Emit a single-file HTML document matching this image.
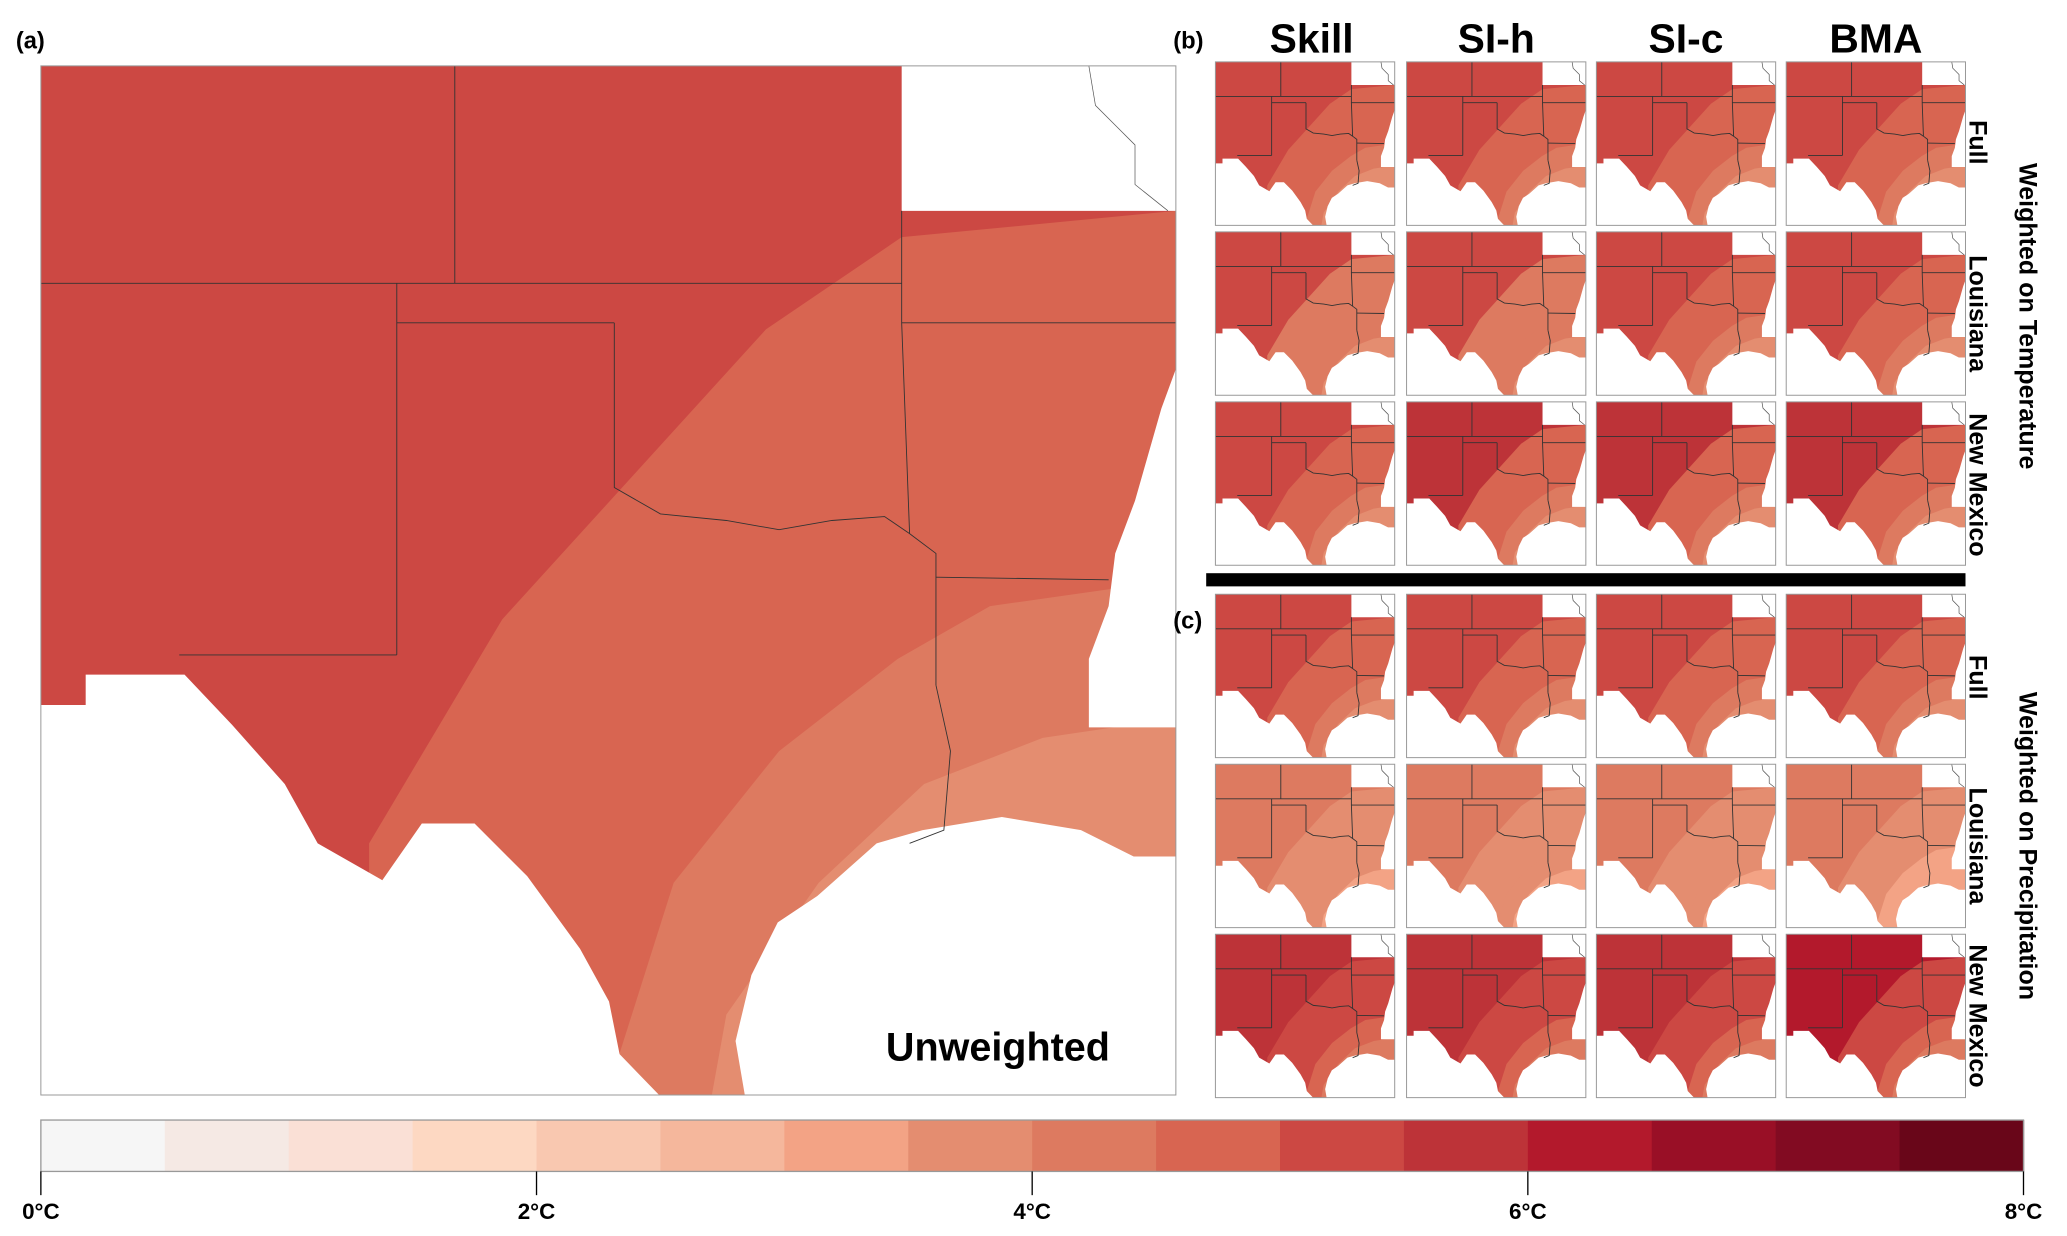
<!DOCTYPE html>
<html><head><meta charset="utf-8">
<style>
html,body{margin:0;padding:0;background:#fff;}
svg{display:block;font-family:"Liberation Sans",sans-serif;}
text{font-weight:bold;fill:#000;}
</style></head>
<body>
<svg id="fig" width="2067" height="1236" viewBox="0 0 1568 938" preserveAspectRatio="none" xmlns="http://www.w3.org/2000/svg">
<defs>
<g id="map-geom">
</g>
</defs>
<g id="main-panel"></g>
<g id="small-panels"></g>
<g id="colorbar"></g>
<text x="12" y="37" font-size="18" font-weight="normal">(a)</text>
<text x="890" y="37" font-size="18">(b)</text>
<text x="890" y="477" font-size="18">(c)</text>
<text x="757" y="805" font-size="30" text-anchor="middle">Unweighted</text>
<rect x="915" y="435" width="576" height="10" fill="#000"/>
</svg>
<script>
// Colorbar data (°C bins)
const binEdges = [0,0.5,1,1.5,2,2.5,3,3.5,4,4.5,5,5.5,6,6.5,7,7.5,8];
const binColors = ["#f6f6f6","#f5e9e4","#fae0d6","#fdd8c2","#f9c8b0","#f5b79c","#f3a385","#e48d70","#dd7a60","#d86551","#cc4843","#bd3338","#b3192c","#990f26","#820b22","#690619"];
const tickValues = [0,2,4,6,8];
const tickLabels = ["0°C","2°C","4°C","6°C","8°C"];
// Small multiples data: mean-ish warming levels per panel (base, band1, band2, band3)
const colNames = ["Skill","SI-h","SI-c","BMA"];
const rowNames = ["Full","Louisiana","New Mexico","Full","Louisiana","New Mexico"];
const panelLevels = [
 [[5.2,4.7,4.3,3.8],[5.2,4.7,4.3,3.8],[5.2,4.7,4.3,3.8],[5.4,4.8,4.3,3.8]],
 [[5.2,4.3,4.2,3.8],[5.2,4.3,4.2,3.8],[5.1,4.6,4.2,3.8],[5.1,4.8,4.3,3.8]],
 [[5.3,4.8,4.3,3.8],[5.6,4.8,4.3,3.8],[5.5,4.8,4.3,3.8],[5.7,4.8,4.3,3.8]],
 [[5.2,4.7,4.3,3.8],[5.1,4.7,4.3,3.8],[5.2,4.7,4.3,3.8],[5.0,4.7,4.3,3.8]],
 [[4.4,3.9,3.6,3.3],[4.4,3.9,3.6,3.3],[4.3,3.8,3.6,3.3],[4.2,3.6,3.4,3.2]],
 [[5.6,5.1,4.6,4.0],[5.7,5.1,4.6,4.0],[5.7,5.1,4.6,4.0],[6.2,5.4,4.8,4.1]]
];
const mainLevels = [5.2,4.7,4.3,3.8];

const NS="http://www.w3.org/2000/svg";
function colorFor(v){
  for(let i=0;i<binColors.length;i++){ if(v<binEdges[i+1]) return binColors[i]; }
  return binColors[binColors.length-1];
}
function mk(tag,attrs,parent){const e=document.createElementNS(NS,tag);for(const k in attrs)e.setAttribute(k,attrs[k]);parent.appendChild(e);return e;}

// map geometry in a 861x781 local frame
const band1=[[249,590],[350,420],[450,310],[550,200],[653,130],[861,110],[861,781],[249,781]];
const band2=[[429,781],[480,620],[560,520],[650,450],[720,410],[861,390],[861,781]];
const band3=[[509,781],[520,720],[590,620],[670,545],[760,510],[861,495],[861,781]];
const whiteTR=[[653,0],[861,0],[861,110],[653,110]];
const whiteR=[[861,230],[850,260],[830,330],[815,370],[810,410],[795,450],[795,502],[861,502]];
const mexico=[[0,485],[34,485],[34,462],[109,462],[145,500],[185,545],[210,590],[259,618],[289,575],[329,575],[369,615],[409,670],[431,710],[439,750],[469,781],[0,781]];
const gulf=[[534,781],[527,740],[539,690],[559,650],[589,630],[634,590],[669,580],[729,570],[789,580],[829,600],[861,600],[861,781]];
const borders=[
 [[0,165],[653,165]],[[314,0],[314,165]],[[270,165],[270,447]],[[105,447],[270,447]],
 [[270,195],[435,195]],[[435,195],[435,320],[470,340],[520,345],[560,352],[600,345],[640,342],[659,355]],
 [[653,110],[653,195],[659,355],[679,370],[679,470]],[[653,195],[861,195]],[[679,388],[810,390]],
 [[679,470],[690,520],[685,580],[659,590]]
];
function pts(a){return a.map(p=>p.join(",")).join(" ");}
function drawMap(g,levels,name){
  mk("rect",{x:0,y:0,width:861,height:781,fill:colorFor(levels[0])},g);
  mk("polygon",{points:pts(band1),fill:colorFor(levels[1])},g);
  mk("polygon",{points:pts(band2),fill:colorFor(levels[2])},g);
  mk("polygon",{points:pts(band3),fill:colorFor(levels[3])},g);
  for(const w of [whiteTR,whiteR,mexico,gulf]) mk("polygon",{points:pts(w),fill:"#fff"},g);
  for(const b of borders) mk("polyline",{points:pts(b),fill:"none",stroke:"#333","stroke-width":0.9,"vector-effect":"non-scaling-stroke"},g);
  mk("polyline",{points:"795,0 800,30 830,60 830,90 855,110",fill:"none",stroke:"#555","stroke-width":0.7,"vector-effect":"non-scaling-stroke"},g);
  mk("rect",{x:0,y:0,width:861,height:781,fill:"none",stroke:"#999","stroke-width":1,"vector-effect":"non-scaling-stroke"},g);
}
// main map
const mainG=document.getElementById("main-panel");
const mg=mk("g",{transform:"translate(31,50)"},mainG);
drawMap(mg,mainLevels);

// small panels
const colX=[922,1067,1211,1355];
const rowY=[47,176,305,451,580,709];
const sp=document.getElementById("small-panels");
for(let r=0;r<6;r++){for(let c=0;c<4;c++){
  const g=mk("g",{transform:`translate(${colX[c]},${rowY[r]}) scale(${136/861},${124/781})`},sp);
  
  
  drawMap(g,panelLevels[r][c]);
}}
// column titles
const colCx=[995,1135,1279,1423];
colNames.forEach((n,i)=>{const t=mk("text",{x:colCx[i],y:40,"font-size":31,"text-anchor":"middle"},sp);t.textContent=n;
  
  });
// row labels
const rowCy=[108,238,368,514,642,771];
rowNames.forEach((n,i)=>{const t=mk("text",{x:0,y:0,"font-size":19,"text-anchor":"middle",transform:`translate(1494,${rowCy[i]}) rotate(90)`},sp);t.textContent=n;
  
  });
[["Weighted on Temperature",240],["Weighted on Precipitation",642]].forEach(([n,y])=>{
  const t=mk("text",{x:0,y:0,"font-size":19,"text-anchor":"middle",transform:`translate(1532,${y}) rotate(90)`},sp);t.textContent=n;
  
  });

// colorbar
const cb=document.getElementById("colorbar");
const x0=31,x1=1535,yTop=850,yBot=889;
const xs=v=>x0+(v-binEdges[0])/(binEdges[binEdges.length-1]-binEdges[0])*(x1-x0);
for(let i=0;i<binColors.length;i++){
  const r=mk("rect",{x:xs(binEdges[i]),y:yTop,width:xs(binEdges[i+1])-xs(binEdges[i])+0.5,height:yBot-yTop,fill:binColors[i]},cb);
  
  
}
mk("rect",{x:x0,y:yTop,width:x1-x0,height:yBot-yTop,fill:"none",stroke:"#999","stroke-width":1},cb);
tickValues.forEach((v,i)=>{
  mk("line",{x1:xs(v),x2:xs(v),y1:yBot,y2:907,stroke:"#000","stroke-width":1},cb);
  const t=mk("text",{x:xs(v),y:925,"font-size":17,"text-anchor":"middle"},cb);t.textContent=tickLabels[i];
  
  
});
</script>
</body></html>
